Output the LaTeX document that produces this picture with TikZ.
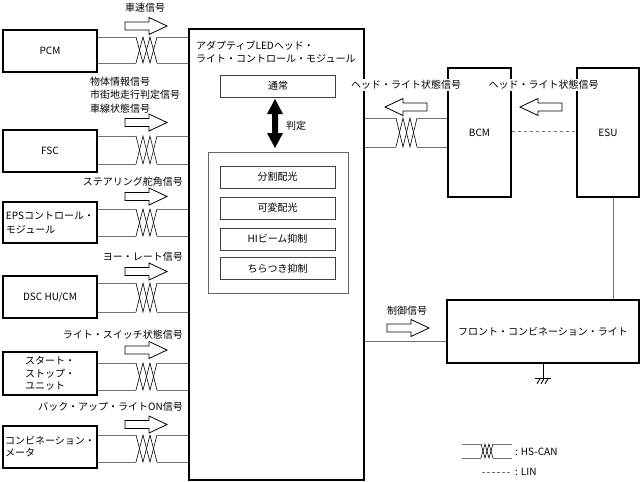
\documentclass[tikz,border=0pt]{standalone}
\usepackage{fontspec}
\setmainfont{Noto Sans CJK JP}
\newcommand\twpair[5]{%
  \path (0,#3) coordinate (tpA) (0,#4) coordinate (tpB);
  \draw[wire] (#1.east |- tpA) -- (#5,#3) (#1.east |- tpB) -- (#5,#4);
  \draw[zz] (#5,#3) -- (#5+7,#4) -- (#5+14,#3) -- (#5+21,#4);
  \draw[zz] (#5,#4) -- (#5+7,#3) -- (#5+14,#4) -- (#5+21,#3);
  \draw[wire] (#5+21,#3) -- (#2.west |- tpA) (#5+21,#4) -- (#2.west |- tpB);
}
\newcommand\harr[2]{\draw[harrow] (#1,#2-4) -- (#1+24,#2-4) -- (#1+24,#2-8.5) -- (#1+42,#2) -- (#1+24,#2+8.5) -- (#1+24,#2+4) -- (#1,#2+4) -- cycle;}
\newcommand\harl[2]{\draw[harrow] (#1+42,#2-4) -- (#1+18,#2-4) -- (#1+18,#2-8.5) -- (#1,#2) -- (#1+18,#2+8.5) -- (#1+18,#2+4) -- (#1+42,#2+4) -- cycle;}
\begin{document}
\begin{tikzpicture}[x=1pt,y=-1pt,
  box/.style={draw=black, line width=1.4pt, fill=white, inner sep=1pt, align=left, font=\fontsize{10}{13}\selectfont},
  ibox/.style={draw=black!75, line width=0.7pt, minimum width=115pt, minimum height=22pt, font=\fontsize{10}{12}\selectfont},
  lbl/.style={font=\fontsize{10}{13.5}\selectfont, inner sep=1pt, align=left},
  wire/.style={draw=black!55, line width=0.8pt},
  zz/.style={draw=black, line width=0.6pt},
  harrow/.style={draw=black, line width=0.8pt, fill=white},
]
\useasboundingbox (0,0) rectangle (640,482);

% left units
\node[box, minimum width=94pt, minimum height=42pt] (pcm) at (50,51) {PCM};
\node[box, minimum width=94pt, minimum height=42pt] (fsc) at (50,151) {FSC};
\node[box, minimum width=94pt, minimum height=41pt] (eps) at (50,222.5) {EPSコントロール・\\[1pt]モジュール};
\node[box, minimum width=94pt, minimum height=42pt] (dsc) at (50,297) {DSC HU/CM};
\node[box, minimum width=94pt, minimum height=43pt, font=\fontsize{10}{12.5}\selectfont] (ssu) at (50,373.5) {スタート・\\ストップ・\\ユニット};
\node[box, minimum width=94pt, minimum height=42pt, font=\fontsize{10}{12}\selectfont] (cmeter) at (50,447) {コンビネーション・\\メータ};

% main module
\node[box, minimum width=175pt, minimum height=451pt] (main) at (276.5,254.5) {};
\node[lbl, anchor=west] (title) at (195,51.5) {アダプティブLEDヘッド・\\[-0.5pt]ライト・コントロール・モジュール};
\node[ibox] (normal) at (278,86) {通常};
\node[draw=black!60, line width=0.7pt, minimum width=140pt, minimum height=141pt] (grp) at (278,222.5) {};
\node[ibox] (m1) at (277.5,177) {分割配光};
\node[ibox] (m2) at (277.5,208) {可変配光};
\node[ibox] (m3) at (277.5,239) {HIビーム抑制};
\node[ibox] (m4) at (277.5,268.5) {ちらつき抑制};
\fill[black] (275,99) -- (283,114) -- (278,114) -- (278,133) -- (283,133) -- (275,148) -- (267,133) -- (272,133) -- (272,114) -- (267,114) -- cycle;
\node[lbl] (hantei) at (296,126) {判定};

% right units
\node[box, minimum width=63pt, minimum height=129pt] (bcm) at (479.5,132.5) {BCM};
\node[box, minimum width=62pt, minimum height=129pt] (esu) at (608,132.5) {ESU};
\node[box, minimum width=192pt, minimum height=63pt] (front) at (543,331.5) {フロント・コンビネーション・ライト};

% left connections
\twpair{pcm}{main}{37}{63}{136}
\twpair{fsc}{main}{136}{164}{136}
\twpair{eps}{main}{209}{236}{136}
\twpair{dsc}{main}{283}{312}{136}
\twpair{ssu}{main}{363}{390}{136}
\twpair{cmeter}{main}{435}{462}{136}
\harr{125}{26}
\harr{125}{122.5}
\harr{125}{196.5}
\harr{125}{271.5}
\harr{125}{350}
\harr{125}{424.5}
\node[lbl] (l1) at (145,8) {車速信号};
\node[lbl, anchor=west] (l2) at (89,95) {物体情報信号\\市街地走行判定信号\\車線状態信号};
\node[lbl, anchor=east] (l3) at (184,182) {ステアリング舵角信号};
\node[lbl, anchor=east] (l4) at (184,257) {ヨー・レート信号};
\node[lbl, anchor=east] (l5) at (184,335) {ライト・スイッチ状態信号};
\node[lbl, anchor=east] (l6) at (184,407) {バック・アップ・ライトON信号};

% right connections
\path (main.east) ++(0,0) coordinate (mE);
\twpair{main}{bcm}{118}{147}{396}
\harl{385}{107}
\harl{520}{107}
\draw[wire, dashed] (bcm.east |- 0,131) coordinate (d1) -- (esu.west |- d1);
\path (613,0) coordinate (xesu) (0,341) coordinate (yfr);
\draw[wire] (esu.south -| xesu) -- (front.north -| xesu);
\draw[wire] (main.east |- yfr) -- (front.west |- yfr);
\harr{387}{328}
\node[lbl, anchor=west] (l7) at (386,311) {制御信号};
\node[lbl, fill=white] (l8) at (406,85) {ヘッド・ライト状態信号};
\node[lbl, fill=white] (l9) at (543.5,85) {ヘッド・ライト状態信号};

% ground
\draw[black, line width=0.8pt] (front.south) -- ++(0,15) coordinate (gnd);
\draw[black, line width=1pt] ([xshift=-8pt]gnd) -- ([xshift=8pt]gnd);
\foreach \dx in {-4,0,4} \draw[black, line width=0.9pt] ([xshift=\dx pt+1pt]gnd) -- ++(-3,5);

% legend
\coordinate (lg1) at (462,444);
\coordinate (lg2) at (512,458);
\draw[wire] (lg1) -- (481,444) (462,458) -- (481,458) (493,444) -- (512,444) (493,458) -- (lg2);
\draw[zz] (481,444) -- (485,458) -- (489,444) -- (493,458);
\draw[zz] (481,458) -- (485,444) -- (489,458) -- (493,444);
\node[lbl, anchor=west] (lgt1) at (514,452) {: HS-CAN};
\coordinate (lg3) at (482,472);
\coordinate (lg4) at (512,472);
\draw[wire, dashed, dash pattern=on 3pt off 2pt] (lg3) -- (lg4);
\node[lbl, anchor=west] (lgt2) at (514,472) {: LIN};
\end{tikzpicture}
\end{document}
